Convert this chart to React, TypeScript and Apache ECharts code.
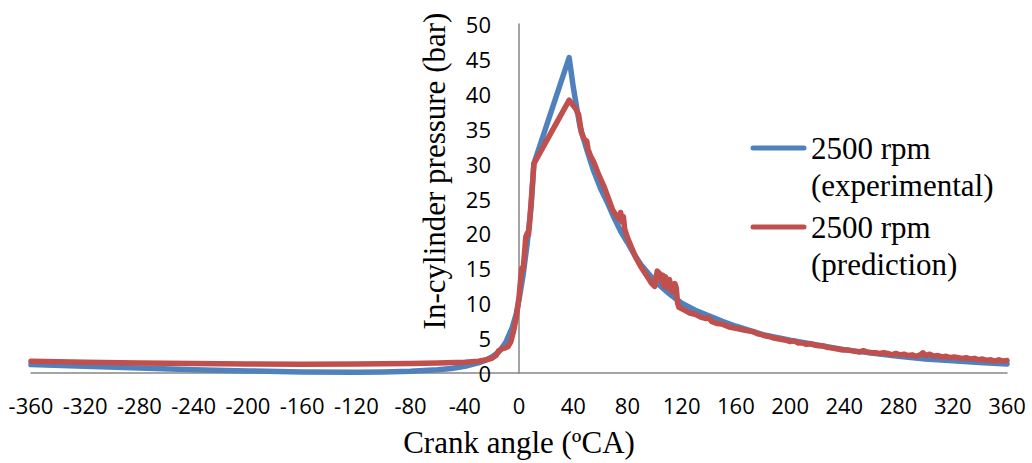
import React, { useEffect, useRef } from "react";
import * as echarts from "echarts";

// Crank angle (ºCA) and pressure (bar), experimental
const EXP_ANGLE = [
  -360, -320, -280, -240, -200, -160, -120, -100, -80, -60, -50, -40, -30, -25, -20, -15, -10, -5, -2, 0, 3, 6, 9, 11,
  37, 40, 43, 45, 50, 55, 60, 65, 70, 75, 80, 85, 90, 100, 110, 120, 130, 140, 150, 160, 180, 200, 220, 240, 260, 280,
  300, 320, 340, 360,
];
const EXP_PRESSURE = [
  1.2, 0.95, 0.7, 0.45, 0.3, 0.15, 0.12, 0.15, 0.25, 0.45, 0.65, 0.95, 1.45, 1.8, 2.3, 3.0, 4.3, 6.5, 8.5, 10.5, 14, 18.5, 24, 30,
  45.2, 41, 37.5, 35.3, 32, 29, 26.5, 24.5, 22.3, 20.3, 18.7, 17.0, 15.5, 13.2, 11.5, 10.0, 9.0, 8.2, 7.4, 6.7, 5.5, 4.7, 4.0, 3.35,
  2.85, 2.4, 2.0, 1.75, 1.5, 1.3,
];

// Prediction
const PRED_ANGLE = [
  -360, -320, -280, -240, -200, -160, -120, -80, -60, -40, -30, -25, -20, -17, -15, -12, -10, -8, -6, -4, -2, 0, 1, 2, 3, 4, 5,
  6, 7, 8, 11, 37, 40, 42, 44, 46, 48, 50, 51, 53, 55, 58, 60, 63, 66, 69, 72, 74, 75, 76, 77, 78, 80, 83, 86, 90, 94, 98, 100,
  101, 102, 104, 105, 106, 107, 108, 110, 111, 113, 115, 116, 117, 118, 122, 126, 130, 134, 138, 140, 142, 146, 150, 155, 160,
  165, 170, 173, 176, 179, 182, 185, 188, 191, 194, 197, 200, 203, 206, 209, 212, 215, 218, 221, 224, 227, 230, 233, 236, 239,
  242, 245, 248, 251, 254, 257, 260, 263, 266, 269, 272, 275, 278, 281, 284, 287, 290, 293, 296, 298, 300, 303, 306, 309, 312,
  315, 318, 321, 324, 327, 330, 333, 336, 339, 342, 345, 348, 351, 354, 357, 360,
];
const PRED_PRESSURE = [
  1.7, 1.55, 1.45, 1.35, 1.3, 1.25, 1.3, 1.35, 1.45, 1.55, 1.7, 1.85, 2.1, 2.5, 3.2, 3.5, 3.6, 3.8, 4.5, 6, 8, 10.8, 13, 15, 14.8,
  17, 19.5, 20, 19.8, 22, 30, 39.1, 38.3, 37.8, 37.0, 34.5, 33.5, 33.2, 32.0, 31.0, 30.3, 28.8, 27.9, 26.6, 25.0, 23.4, 22.5,
  22.0, 23.0, 21.6, 22.4, 20.6, 19.4, 18.0, 16.6, 15.2, 14.0, 12.8, 12.4, 13.6, 14.6, 14.2, 13.2, 14.0, 12.4, 13.8, 12.2, 13.4,
  11.6, 12.8, 12.2, 10.0, 9.4, 9.0, 8.6, 8.4, 8.0, 7.8, 7.9, 7.4, 7.1, 7.0, 6.6, 6.4,
  6.2, 6.0, 5.9, 5.6, 5.5, 5.3, 5.2, 5.0, 4.9, 4.8, 4.7, 4.5, 4.6, 4.3, 4.3, 4.1, 4.2, 4.0, 3.9, 3.9, 3.7, 3.6, 3.5, 3.4, 3.3,
  3.3, 3.2, 3.1, 3.0, 3.2, 3.0, 2.9, 2.9, 2.8, 2.9, 2.8, 2.6, 2.8, 2.6, 2.7, 2.5, 2.6, 2.4, 2.6, 2.9, 2.5, 2.7, 2.4, 2.5, 2.3,
  2.4, 2.2, 2.3, 2.2, 2.1, 2.2, 2.0, 2.1, 1.9, 2.0, 1.8, 1.9, 1.7, 1.9, 1.7, 1.8,
];

const SERIES_NAMES = ["2500 rpm\n(experimental)", "2500 rpm\n(prediction)"];
const COLORS = ["#4F81BD", "#C0504D"];
const X_TITLE = "Crank angle (ºCA)";
const Y_TITLE = "In-cylinder pressure (bar)";

const SERIF = "'Liberation Serif', 'Times New Roman', serif";
const SANS = "'Open Sans', 'Liberation Sans', sans-serif";

export default function App() {
  const ref = useRef<HTMLDivElement>(null);
  useEffect(() => {
    if (!ref.current) return;
    const chart = echarts.init(ref.current, null, { renderer: "svg" });
    const exp = EXP_ANGLE.map((a, i) => [a, EXP_PRESSURE[i]]);
    const pred = PRED_ANGLE.map((a, i) => [a, PRED_PRESSURE[i]]);
    const legendY = [148, 227];
    const gridLeft = 31;
    const gridWidth = 1032 - 31 - 25;
    const zeroOffset = (gridWidth * 360) / 720; // distance of x = 0 from grid's left edge
    chart.setOption({
      animation: false,
      backgroundColor: "#ffffff",
      grid: { left: gridLeft, right: 25, top: 24, bottom: 90, containLabel: false, outerBoundsMode: "none" },
      xAxis: {
        type: "value",
        min: -360,
        max: 360,
        interval: 40,
        axisLine: { show: true, onZero: true, lineStyle: { color: "#868686", width: 1.5 } },
        axisTick: { show: false },
        splitLine: { show: false },
        axisLabel: { color: "#000", fontFamily: SANS, fontSize: 22, margin: 21 },
      },
      yAxis: {
        type: "value",
        min: 0,
        max: 50,
        interval: 5,
        position: "left",
        offset: -zeroOffset,
        axisLine: { show: true, onZero: false, lineStyle: { color: "#868686", width: 1.5 } },
        axisTick: { show: false },
        splitLine: { show: false },
        axisLabel: { color: "#000", fontFamily: SANS, fontSize: 22, margin: 28 },
      },
      series: [
        {
          name: SERIES_NAMES[0],
          type: "line",
          data: exp,
          showSymbol: false,
          symbol: "none",
          lineStyle: { color: COLORS[0], width: 5.5, cap: "round", join: "round" },
          itemStyle: { color: COLORS[0] },
        },
        {
          name: SERIES_NAMES[1],
          type: "line",
          data: pred,
          showSymbol: false,
          symbol: "none",
          lineStyle: { color: COLORS[1], width: 5.5, cap: "round", join: "round" },
          itemStyle: { color: COLORS[1] },
        },
      ],
      graphic: [
        {
          type: "text",
          x: 434,
          y: 171,
          rotation: Math.PI / 2,
          style: {
            text: Y_TITLE,
            font: `31px ${SERIF}`,
            fill: "#000",
            textAlign: "center",
            textVerticalAlign: "middle",
          },
        },
        {
          type: "text",
          x: 519,
          y: 442,
          style: {
            text: X_TITLE,
            font: `31px ${SERIF}`,
            fill: "#000",
            textAlign: "center",
            textVerticalAlign: "middle",
          },
        },
        ...SERIES_NAMES.flatMap((name, i) => [
          {
            type: "line",
            shape: { x1: 753, y1: legendY[i], x2: 804, y2: legendY[i] },
            style: { stroke: COLORS[i], lineWidth: 5, lineCap: "round" },
          },
          {
            type: "text",
            x: 811,
            y: legendY[i] - 18,
            style: {
              text: name,
              font: `31px ${SERIF}`,
              lineHeight: 37,
              fill: "#000",
              textAlign: "left",
              textVerticalAlign: "top",
            },
          },
        ]),
      ],
    });
    return () => chart.dispose();
  }, []);
  return <div ref={ref} style={{ position: "fixed", left: 0, top: 0, width: 1032, height: 463 }} />;
}
